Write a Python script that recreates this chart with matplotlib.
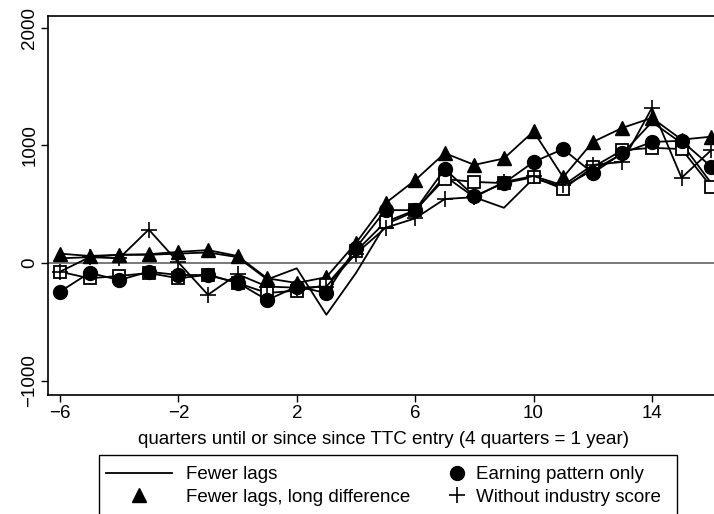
import numpy as np
import matplotlib
matplotlib.use("Agg")
import matplotlib.pyplot as plt
from matplotlib.lines import Line2D
from matplotlib.patches import Rectangle

plt.rcParams["font.family"] = ["Liberation Sans", "DejaVu Sans"]

# 분기 (TTC 진입 전후)
quarters = list(range(-6, 17))

# 시리즈 값
fewer_lags = [40, 50, 70, 70, 80, 90, 50, -140, -45, -440, -85, 330, 440,
              740, 560, 470, 720, 650, 790, 930, 1200, 1020, 680]
fewer_lags_long_diff = [80, 60, 70, 75, 95, 110, 60, -130, -170, -120, 170, 510, 705,
                        935, 835, 890, 1120, 730, 1030, 1150, 1235, 1050, 1075]
earning_pattern_only = [-244, -83, -145, -74, -102, -102, -167, -315, -200, -255, 130, 450, 450,
                        800, 570, 680, 860, 970, 765, 935, 1030, 1040, 820]
without_industry = [-74, 50, 40, 285, 5, -270, -95, -200, -210, -200, 80, 300, 380,
                    545, 560, 690, 740, 660, 835, 860, 1320, 725, 960]
baseline = [-74, -130, -110, -85, -130, -100, -170, -255, -235, -187, 100, 350, 450,
            715, 690, 680, 730, 630, 815, 960, 980, 970, 650]

series_labels = ["Fewer lags", "Fewer lags, long difference", "Earning pattern only",
                 "Without industry score"]

FS = 13.5

fig = plt.figure(figsize=(7.14, 5.14), dpi=100)
ax = fig.add_axes([0.0672, 0.2315, 0.94, 0.7374])

ax.axhline(0, color="#6e6e6e", lw=1.3, zorder=1)

lw = 1.3
ax.plot(quarters, fewer_lags, color="black", lw=lw, zorder=3)
ax.plot(quarters, fewer_lags_long_diff, color="black", lw=lw, marker="^",
        markersize=10, zorder=3)
ax.plot(quarters, baseline, color="black", lw=lw, marker="s", markersize=9,
        markerfacecolor="white", markeredgewidth=1.3, zorder=3)
ax.plot(quarters, earning_pattern_only, color="black", lw=lw, marker="o",
        markersize=10, zorder=3)
ax.plot(quarters, without_industry, color="black", lw=lw, marker="+",
        markersize=12, markeredgewidth=1.2, zorder=4)

ax.set_xlim(-6.405, 16.27)
ax.set_ylim(-1123, 2102)
ax.set_xticks([-6, -2, 2, 6, 10, 14])
ax.set_xticklabels(["\u22126", "\u22122", "2", "6", "10", "14"])
ax.set_yticks([-1000, 0, 1000, 2000])
ax.set_yticklabels(["\u22121000", "0", "1000", "2000"], rotation=90, va="center")
ax.tick_params(axis="both", direction="out", length=5, width=1, labelsize=FS,
               colors="black", pad=2)
for s in ax.spines.values():
    s.set_linewidth(1.2)

ax.set_xlabel("quarters until or since since TTC entry (4 quarters = 1 year)",
              fontsize=FS, labelpad=6.5)

# 범례 (Stata 스타일, 아래쪽은 잘림)
fig.patches.append(Rectangle((99 / 714, -0.1), 578 / 714, 0.1148 + 0.1,
                             transform=fig.transFigure, fill=False,
                             edgecolor="black", lw=1.0))

col1 = [Line2D([], [], color="black", lw=lw),
        Line2D([], [], color="black", lw=0, marker="^", markersize=10)]
col2 = [Line2D([], [], color="black", lw=0, marker="o", markersize=10),
        Line2D([], [], color="black", lw=0, marker="+", markersize=12,
               markeredgewidth=1.2)]

top_y = 1 - 466 / 514
leg1 = fig.legend(col1, series_labels[:2], loc="upper left",
                  bbox_to_anchor=(106 / 714, top_y), fontsize=FS, frameon=False,
                  handlelength=3.52, handletextpad=0.75, borderpad=0,
                  borderaxespad=0, labelspacing=0.29)
leg2 = fig.legend(col2, series_labels[2:], loc="upper left",
                  bbox_to_anchor=(447.6 / 714, top_y), fontsize=FS, frameon=False,
                  handlelength=1.0, handletextpad=0.51, borderpad=0,
                  borderaxespad=0, labelspacing=0.29)

fig.savefig("out.png", dpi=100)
